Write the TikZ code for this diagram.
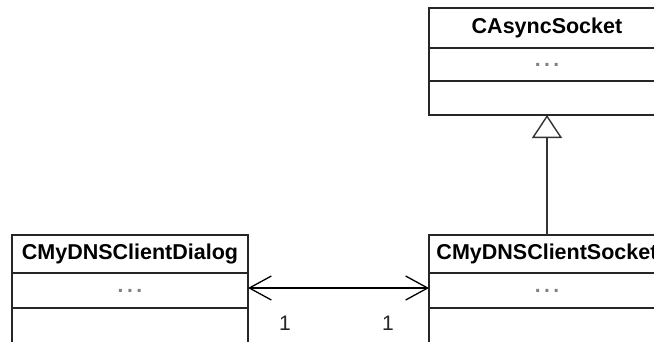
\documentclass[tikz,border=0pt]{standalone}
\usepackage{fontspec}
\setmainfont{Liberation Sans}
\usetikzlibrary{arrows.meta}
\begin{document}
\begin{tikzpicture}[x=1pt,y=-1pt,
  box/.style={draw=black!85, line width=1.6pt, rectangle, minimum width=236pt, anchor=north west, inner sep=0pt, outer sep=0pt},
  ttl/.style={box, font=\fontsize{21.5}{24}\selectfont\bfseries},
  dots/.style={box, font=\fontsize{21}{24}\selectfont\bfseries, text=black!50},
  mult/.style={font=\fontsize{21}{24}\selectfont, text=black!85, inner sep=0pt},
  assoc/.style={draw=black, line width=1.3pt, {Straight Barb[length=22pt,width=24pt,line width=1.3pt]}-{Straight Barb[length=22pt,width=24pt,line width=1.3pt]}},
  inherit/.style={draw=black!80, line width=1.6pt, -{Triangle[open,length=23pt,width=30pt,line width=1.4pt,fill=white]}}
]
\useasboundingbox (0,0) rectangle (654,341);
\begin{scope}
\clip (0,0) rectangle (654,341);
% CAsyncSocket
\node[ttl, minimum height=40pt] (atitle) at (429,8) {CAsyncSocket};
\node[dots, minimum height=33pt] (aattr) at (429,48) {\raisebox{-2pt}{.\,.\,.}};
\node[box, minimum height=34pt] (ameth) at (429,81) {};
% CMyDNSClientDialog
\node[ttl, minimum height=38pt] (dtitle) at (12,235) {CMyDNSClientDialog};
\node[dots, minimum height=35pt] (dattr) at (12,273) {\raisebox{-2pt}{.\,.\,.}};
\node[box, minimum height=40pt] (dmeth) at (12,308) {};
% CMyDNSClientSocket
\node[ttl, minimum height=38pt] (stitle) at (429,235) {CMyDNSClientSocket};
\node[dots, minimum height=35pt] (sattr) at (429,273) {\raisebox{-2pt}{.\,.\,.}};
\node[box, minimum height=40pt] (smeth) at (429,308) {};
\end{scope}
% connectors
\draw[assoc] ([yshift=2.5pt]dattr.east) -- ([yshift=2.5pt]sattr.west);
\draw[inherit] (stitle.north) -- (ameth.south);
% multiplicities
\node[mult] (m1) at (285,323) {1};
\node[mult] (m2) at (388,323) {1};
\end{tikzpicture}
\end{document}
